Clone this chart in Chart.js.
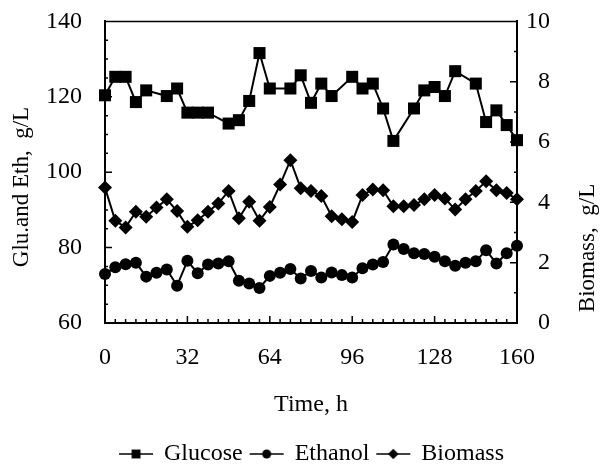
<!DOCTYPE html>
<html>
<head>
<meta charset="utf-8">
<script src="https://cdn.jsdelivr.net/npm/chart.js@4.4.0/dist/chart.umd.min.js"></script>
<style>
  html, body { margin: 0; padding: 0; background: #fff; }
</style>
</head>
<body>
<canvas id="mainChart" width="607" height="470"></canvas>
<script>
// sampling times (h)
const hours = [0,4,8,12,16,20,24,28,32,36,40,44,48,52,56,60,64,68,72,76,80,
               84,88,92,96,100,104,108,112,116,120,124,128,132,136,140,144,148,152,156,160];
const glucoseHours = [0,4,8,12,16,24,28,32,36,40,48,52,56,60,64,72,76,80,84,88,
                      96,100,104,108,112,120,124,128,132,136,144,148,152,156,160];

// g/L
const glucose = [120.4,125.3,125.3,118.6,121.7,120.2,122.2,115.8,115.8,115.8,112.9,113.8,118.9,131.6,122.2,
                 122.2,125.7,118.4,123.5,120.2,125.3,122.2,123.5,116.9,108.3,116.9,121.7,122.6,120.2,126.8,
                 123.5,113.3,116.4,112.5,108.5];
const ethanol = [73.0,74.8,75.6,76.0,72.3,73.3,74.2,69.9,76.5,73.2,75.5,75.8,76.4,71.2,70.5,69.3,72.5,73.3,
                 74.3,71.8,73.8,72.1,73.4,72.7,72.1,74.5,75.5,76.2,80.8,79.6,78.5,78.3,77.6,76.4,75.2,76.0,
                 76.4,79.3,75.8,78.5,80.5];
// g/L, right axis
const biomass = [4.49,3.39,3.17,3.69,3.52,3.83,4.10,3.71,3.19,3.41,3.69,3.96,4.38,3.47,4.02,3.39,3.85,4.59,
                 5.40,4.47,4.38,4.21,3.54,3.44,3.35,4.24,4.43,4.40,3.87,3.87,3.91,4.10,4.24,4.13,3.76,4.10,
                 4.38,4.70,4.40,4.31,4.10];

const seriesNames = ["Glucose", "Ethanol", "Biomass"];
const leftTitle = "Glu.and Eth,  g/L";
const rightTitle = "Biomass,  g/L";
const xTitle = "Time, h";

const FONT = "'Liberation Serif', 'Times New Roman', serif";
const FS = 24;
Chart.defaults.font.family = FONT;
Chart.defaults.font.size = FS;
Chart.defaults.color = "#000";

function pts(xs, ys) {
  return xs.map((x, i) => ({ x: x, y: ys[i] }));
}

// little "line + marker" pictures for the legend
function legendIcon(style, r) {
  const c = document.createElement("canvas");
  c.width = 40; c.height = 16;
  const g = c.getContext("2d");
  g.strokeStyle = "#000"; g.fillStyle = "#000"; g.lineWidth = 1.5;
  g.beginPath(); g.moveTo(4, 8); g.lineTo(38, 8); g.stroke();
  g.beginPath();
  if (style == "rect") {
    g.rect(21 - r * 0.7, 8 - r * 0.7, r * 1.4, r * 1.4);
  } else if (style == "circle") {
    g.arc(21, 8, r, 0, Math.PI * 2);
  } else {
    g.moveTo(21, 8 - r); g.lineTo(21 + r, 8); g.lineTo(21, 8 + r); g.lineTo(21 - r, 8); g.closePath();
  }
  g.fill();
  return c;
}

function verticalText(ctx, text, x, y) {
  ctx.save();
  ctx.fillStyle = "#000";
  ctx.font = "23px " + FONT;
  ctx.textAlign = "center";
  ctx.textBaseline = "middle";
  ctx.translate(x, y);
  ctx.rotate(-Math.PI / 2);
  ctx.fillText(text, 0, 0);
  ctx.restore();
}

const frame = {
  id: "frame",
  afterDraw(chart) {
    const { ctx, chartArea: a, scales } = chart;
    ctx.save();
    ctx.strokeStyle = "#000";
    ctx.lineWidth = 1.5;
    ctx.beginPath();
    ctx.moveTo(a.left, a.top); ctx.lineTo(a.right, a.top);
    // inward ticks
    for (let t = 0; t <= 160; t += 4) {
      const px = scales.x.getPixelForValue(t);
      const len = t % 32 == 0 ? 7 : 4;
      ctx.moveTo(px, a.bottom); ctx.lineTo(px, a.bottom - len);
    }
    for (let v = 60; v <= 140; v += 5) {
      const py = scales.y.getPixelForValue(v);
      const len = v % 20 == 0 ? 7 : 3;
      ctx.moveTo(a.left, py); ctx.lineTo(a.left + len, py);
    }
    for (let v = 0; v <= 10; v += 1) {
      const py = scales.y2.getPixelForValue(v);
      const len = v % 2 == 0 ? 7 : 3;
      ctx.moveTo(a.right, py); ctx.lineTo(a.right - len, py);
    }
    ctx.stroke();
    ctx.restore();

    // axis titles, both read bottom to top
    verticalText(ctx, leftTitle, 22, 187);
    verticalText(ctx, rightTitle, 588, 248);
  }
};

const common = {
  borderColor: "#000",
  backgroundColor: "#000",
  borderWidth: 2,
  pointBorderWidth: 0,
  tension: 0,
  fill: false,
  clip: false
};

new Chart("mainChart", {
  type: "line",
  data: {
    datasets: [
      Object.assign({ label: seriesNames[0], data: pts(glucoseHours, glucose), yAxisID: "y",
                      pointStyle: "rect", pointRadius: 8.5, pointHoverRadius: 8.5 }, common),
      Object.assign({ label: seriesNames[1], data: pts(hours, ethanol), yAxisID: "y",
                      pointStyle: "circle", pointRadius: 6, pointHoverRadius: 6 }, common),
      Object.assign({ label: seriesNames[2], data: pts(hours, biomass), yAxisID: "y2",
                      pointStyle: "rectRot", pointRadius: 7, pointHoverRadius: 7 }, common)
    ]
  },
  options: {
    responsive: false,
    animation: false,
    events: [],
    layout: { padding: { left: 30, right: 57, top: 6, bottom: -6 } },
    plugins: {
      tooltip: { enabled: false },
      legend: {
        position: "bottom",
        fullSize: false,
        labels: {
          usePointStyle: true,
          pointStyleWidth: 34,
          padding: 6,
          font: { size: FS },
          generateLabels: chart => chart.data.datasets.map((ds, i) => ({
            text: ds.label,
            pointStyle: legendIcon(ds.pointStyle, ds.pointRadius * 0.75),
            fillStyle: "#000",
            strokeStyle: "#000",
            lineWidth: 0,
            fontColor: "#000",
            hidden: false,
            datasetIndex: i
          }))
        }
      }
    },
    scales: {
      x: {
        type: "linear",
        min: 0, max: 160,
        ticks: { stepSize: 32, padding: 0 },
        // tick marks drawn by the frame plugin; tickLength only spaces the labels
        grid: { display: false, drawTicks: true, tickLength: 20 },
        border: { color: "#000", width: 2 },
        title: { display: true, text: xTitle, padding: { top: 0, bottom: 17 } },
        afterFit: s => { s.height = 113; }
      },
      y: {
        position: "left",
        min: 60, max: 140,
        ticks: { stepSize: 20, padding: 0 },
        grid: { display: false, drawTicks: true, tickLength: 23 },
        border: { color: "#000", width: 2 },
        afterFit: s => { s.width = 75; }
      },
      y2: {
        position: "right",
        min: 0, max: 10,
        ticks: { stepSize: 2, crossAlign: "far", padding: 7 },
        grid: { display: false, drawTicks: false },
        border: { color: "#000", width: 2 },
        afterFit: s => { s.width = 33; }
      }
    }
  },
  plugins: [frame]
});
</script>
</body>
</html>
